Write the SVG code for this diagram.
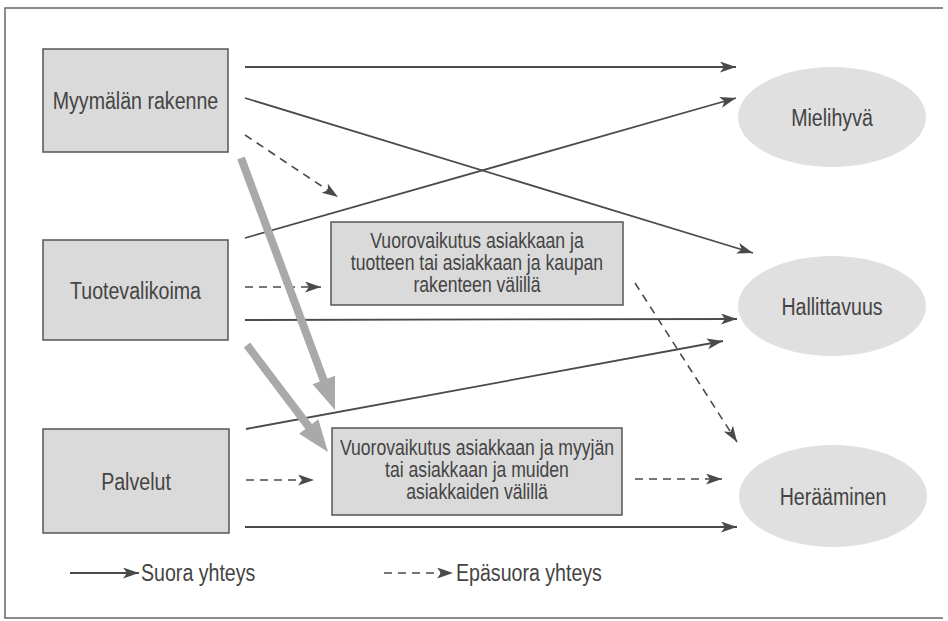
<svg xmlns="http://www.w3.org/2000/svg" width="948" height="621" viewBox="0 0 948 621">
<defs>
<style>
.box{fill:#dadada;stroke:#555;stroke-width:1.5}
.ell{fill:#e0e0e0;stroke:none}
.lbl{font-family:"Liberation Sans",Arial,sans-serif;font-size:24.5px;fill:#444;text-anchor:middle}
.mid{font-family:"Liberation Sans",Arial,sans-serif;font-size:22px;fill:#444;text-anchor:middle}
.leg{font-family:"Liberation Sans",Arial,sans-serif;font-size:24.5px;fill:#444}
.solid{stroke:#4a4a4a;stroke-width:1.8;fill:none;marker-end:url(#ah)}
.dash{stroke:#4a4a4a;stroke-width:1.6;fill:none;stroke-dasharray:8 6;marker-end:url(#ah)}
.thick{stroke:#a9a9a9;stroke-width:8;fill:none}
.thickhead{fill:#a9a9a9}
</style>
<marker id="ah" markerUnits="userSpaceOnUse" markerWidth="17" markerHeight="12" refX="16" refY="5.5" orient="auto">
<path d="M0,0 L16,5.5 L0,11 L4,5.5 z" fill="#4a4a4a"/>
</marker>
</defs>
<rect x="0" y="0" width="948" height="621" fill="#ffffff"/>
<path d="M943,8 H5 V618 H943" fill="none" stroke="#666" stroke-width="1.5"/>

<g id="connectors">
<line class="solid" x1="245" y1="67" x2="736" y2="67"/>
<line class="solid" x1="245" y1="98" x2="753" y2="253"/>
<line class="dash" x1="245" y1="135" x2="338" y2="197"/>
<line class="solid" x1="245" y1="238" x2="736" y2="98"/>
<line class="dash" x1="245" y1="287" x2="321" y2="287"/>
<line class="solid" x1="245" y1="320" x2="737" y2="319"/>
<line class="solid" x1="246" y1="429" x2="723" y2="341"/>
<line class="dash" x1="246" y1="480" x2="314" y2="480"/>
<line class="dash" x1="635" y1="479" x2="722" y2="479"/>
<line class="solid" x1="245" y1="527" x2="737" y2="527"/>
<line class="dash" x1="635" y1="283" x2="737" y2="442"/>
<line class="thick" x1="241" y1="158" x2="324" y2="381"/>
<polygon class="thickhead" points="335,410 312.6,384.2 335,375.8"/>
<line class="thick" x1="247" y1="345" x2="309" y2="427"/>
<polygon class="thickhead" points="328,452 299.1,433.7 318.3,419.3"/>
</g>

<g id="node-myymalan-rakenne">
<rect class="box" x="43" y="49" width="185" height="103"/>
<text class="lbl" transform="translate(135.5,109) scale(0.8,1)">Myymälän rakenne</text>
</g>
<g id="node-tuotevalikoima">
<rect class="box" x="43" y="240" width="185" height="100"/>
<text class="lbl" transform="translate(135.5,299) scale(0.8,1)">Tuotevalikoima</text>
</g>
<g id="node-palvelut">
<rect class="box" x="43" y="429" width="186" height="104"/>
<text class="lbl" transform="translate(136,490) scale(0.8,1)">Palvelut</text>
</g>
<g id="node-vuorovaikutus-tuote">
<rect class="box" x="331" y="222" width="292" height="83"/>
<text class="mid" transform="translate(477,248) scale(0.8,1)">Vuorovaikutus asiakkaan ja</text>
<text class="mid" transform="translate(477,270) scale(0.8,1)">tuotteen tai asiakkaan ja kaupan</text>
<text class="mid" transform="translate(477,292) scale(0.8,1)">rakenteen välillä</text>
</g>
<g id="node-vuorovaikutus-myyja">
<rect class="box" x="332" y="428" width="290" height="87"/>
<text class="mid" transform="translate(477,455) scale(0.8,1)">Vuorovaikutus asiakkaan ja myyjän</text>
<text class="mid" transform="translate(477,477) scale(0.8,1)">tai asiakkaan ja muiden</text>
<text class="mid" transform="translate(477,499) scale(0.8,1)">asiakkaiden välillä</text>
</g>
<g id="node-mielihyva">
<ellipse class="ell" cx="832" cy="117" rx="94" ry="50"/>
<text class="lbl" transform="translate(832,126) scale(0.8,1)">Mielihyvä</text>
</g>
<g id="node-hallittavuus">
<ellipse class="ell" cx="832" cy="306" rx="94" ry="50"/>
<text class="lbl" transform="translate(832,315) scale(0.8,1)">Hallittavuus</text>
</g>
<g id="node-heraaminen">
<ellipse class="ell" cx="833" cy="496" rx="94" ry="51"/>
<text class="lbl" transform="translate(833,505) scale(0.8,1)">Herääminen</text>
</g>

<g id="legend">
<line class="solid" x1="70" y1="573" x2="139" y2="573"/>
<text class="leg" transform="translate(141,581) scale(0.8,1)">Suora yhteys</text>
<line class="dash" x1="384" y1="573" x2="453" y2="573"/>
<text class="leg" transform="translate(456,581) scale(0.8,1)">Epäsuora yhteys</text>
</g>
</svg>
